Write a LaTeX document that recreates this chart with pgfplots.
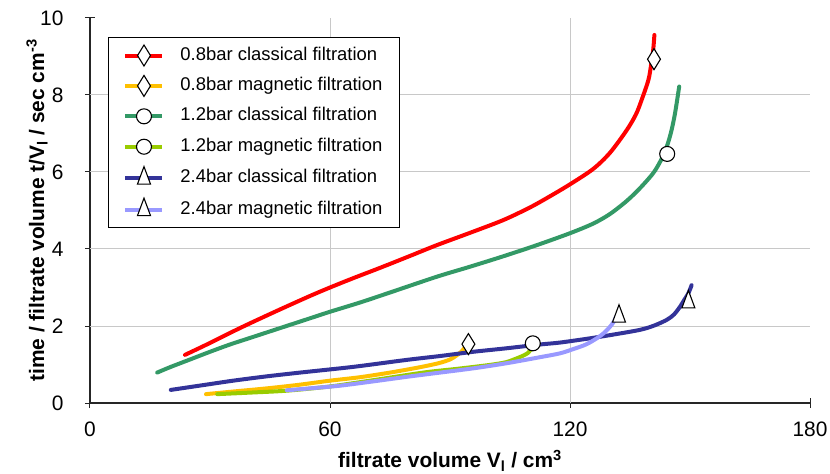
\documentclass[border=0pt]{standalone}
\usepackage{pgfplots}
\pgfplotsset{compat=1.18}
\usepackage{fontspec}
\setmainfont{Liberation Sans}
\definecolor{cRed}{HTML}{FF0000}
\definecolor{cYel}{HTML}{FFC000}
\definecolor{cGrn}{HTML}{339966}
\definecolor{cLgr}{HTML}{99CC00}
\definecolor{cDbl}{HTML}{333399}
\definecolor{cLbl}{HTML}{9999FF}
\definecolor{gridc}{HTML}{C8C8C8}
\pgfplotsset{
  ln/.style={line width=4bp, mark=none, forget plot, line join=round, line cap=round, smooth, tension=0.5},
  legimg/.style={legend image code/.code={\draw[#1, line width=4bp] (0bp,0bp) -- (37bp,0bp); \draw[##1] plot coordinates {(18.5bp,0bp)};}},
  dmk/.style={only marks, mark=diamond*, mark size=10.5bp, mark options={draw=black, fill=white, line width=1.1bp, xscale=0.82}},
  cmk/.style={only marks, mark=*, mark size=7.5bp, mark options={draw=black, fill=white, line width=1.1bp}},
  tmk/.style={only marks, mark=triangle*, mark size=7.5bp, mark options={draw=black, fill=white, line width=1.1bp, yscale=1.55}},
}
\begin{document}
\begin{tikzpicture}
\begin{axis}[
  scale only axis, width=720bp, height=385bp,
  xmin=0, xmax=180, ymin=0, ymax=10,
  axis lines=left, axis line style={-, line width=1.2bp, black!85},
  xtick={0,60,120,180}, ytick={0,2,...,10},
  tick align=center, major tick length=10bp, tick style={line width=1bp, black!85},
  extra x ticks={60,120}, extra y ticks={2,4,6,8},
  extra x tick labels={}, extra y tick labels={},
  extra tick style={grid=major, major tick length=0pt},
  grid style={gridc, line width=1bp},
  /pgf/number format/assume math mode=true,
  ticklabel style={font=\fontsize{21}{25}\selectfont},
  xticklabel style={yshift=-10bp},
  yticklabel style={xshift=-18bp},
  label style={font=\bfseries\fontsize{21}{25}\selectfont},
  xlabel={filtrate volume V\textsubscript{l} / cm\textsuperscript{3}},
  ylabel={time / filtrate volume t/V\textsubscript{l} / sec cm\textsuperscript{-3}},
  xlabel style={at={(axis description cs:0.5,-0.1688)}, anchor=base},
  ylabel style={at={(axis description cs:-0.0736,0.5)}, anchor=center},
  legend style={at={(0.025,0.9506)}, anchor=north west, draw=black, line width=1bp, fill=white,
    font=\fontsize{18.5}{22}\selectfont, inner xsep=15bp, inner ysep=7.5bp, row sep=9.4bp, column sep=14bp,
    nodes={inner sep=2bp, text height=13bp, text depth=4bp}},
  legend cell align=left,
]
\addplot[ln, cRed] coordinates {(23.75,1.25) (27,1.41) (30,1.56) (35,1.82) (40,2.07) (47.5,2.43) (55,2.78) (60,3.00) (66,3.25) (72.5,3.51) (80,3.82) (86.7,4.10) (95,4.42) (103.3,4.75) (110,5.08) (115,5.37) (120,5.68) (125.8,6.08) (130,6.50) (134.2,7.09) (136.5,7.50) (137.9,7.87) (139.6,8.39) (140.3,8.80) (140.8,9.17) (141.1,9.56)};
\addplot[ln, cYel] coordinates {(29,0.23) (36,0.30) (44.2,0.38) (52,0.47) (60,0.58) (67.5,0.67) (75,0.79) (82,0.92) (87,1.03) (90,1.13) (91.7,1.24) (93,1.35) (93.75,1.45)};
\addplot[ln, cGrn] coordinates {(16.8,0.79) (20,0.93) (25,1.13) (30,1.33) (35,1.52) (40,1.69) (45,1.86) (50,2.03) (55,2.20) (60,2.37) (67.5,2.61) (75,2.87) (86.7,3.28) (95,3.54) (103.3,3.81) (111.7,4.10) (120,4.41) (125.8,4.66) (130,4.91) (134.2,5.25) (137.5,5.58) (140.8,5.97) (142.7,6.30) (144.2,6.66) (145.3,7.05) (146.25,7.52) (147.3,8.22)};
\addplot[ln, cLgr] coordinates {(31.8,0.23) (40,0.27) (49.2,0.32) (60,0.43) (70,0.58) (83.3,0.79) (92,0.89) (100,0.99) (104,1.06) (106.7,1.16) (108.5,1.24) (109.6,1.31) (110.4,1.42)};
\addplot[ln, cDbl] coordinates {(20.2,0.34) (28,0.46) (35.8,0.58) (44,0.69) (52.5,0.79) (62.5,0.90) (67.5,0.96) (79.2,1.12) (87.5,1.22) (95.8,1.33) (104,1.42) (112.5,1.52) (117.5,1.57) (125,1.68) (131,1.78) (137.5,1.90) (141,2.01) (144.2,2.16) (146,2.30) (147.5,2.50) (148.7,2.70) (149.6,2.85) (150.4,3.06)};
\addplot[ln, cLbl] coordinates {(49.2,0.33) (55,0.38) (62.5,0.45) (70,0.55) (79.2,0.68) (87.5,0.79) (95.8,0.90) (104,1.03) (112.5,1.19) (117.5,1.29) (120.8,1.40) (124,1.52) (126.7,1.68) (128.5,1.82) (130,1.98) (131,2.12) (131.5,2.24)};
\addplot[dmk, legimg=cRed] coordinates {(141,8.93)};
\addlegendentry{0.8bar classical filtration}
\addplot[dmk, legimg=cYel] coordinates {(94.6,1.53)};
\addlegendentry{0.8bar magnetic filtration}
\addplot[cmk, legimg=cGrn] coordinates {(144.3,6.47)};
\addlegendentry{1.2bar classical filtration}
\addplot[cmk, legimg=cLgr] coordinates {(110.7,1.55)};
\addlegendentry{1.2bar magnetic filtration}
\addplot[tmk, legimg=cDbl] coordinates {(149.6,2.62)};
\addlegendentry{2.4bar classical filtration}
\addplot[tmk, legimg=cLbl] coordinates {(132.25,2.25)};
\addlegendentry{2.4bar magnetic filtration}
\end{axis}
\pgfresetboundingbox
\useasboundingbox (-90bp,-71bp) rectangle (740bp,403bp);
\end{tikzpicture}
\end{document}
